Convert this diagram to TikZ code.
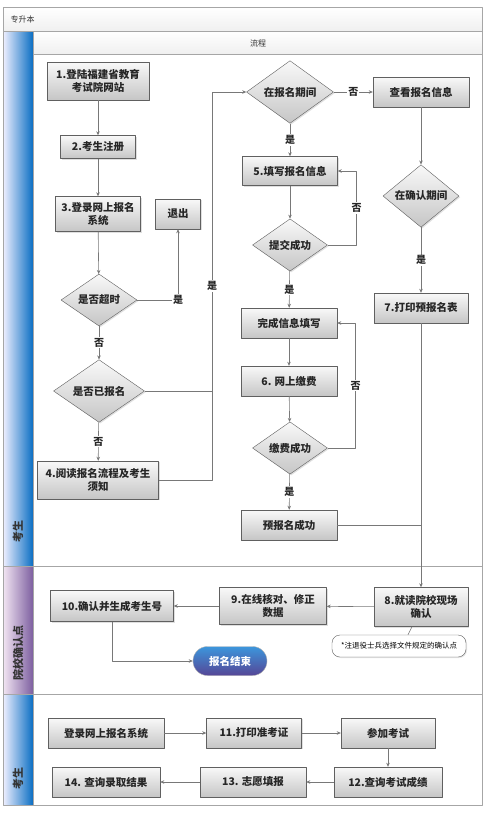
\documentclass[tikz,border=0pt]{standalone}
\usepackage{fontspec}
\setmainfont{Noto Sans CJK SC}
\usetikzlibrary{shapes.geometric,shadows,arrows.meta}

\definecolor{laneblue}{RGB}{10,110,195}
\definecolor{lanepurple}{RGB}{125,95,160}
\definecolor{linegray}{RGB}{120,120,120}
\definecolor{endtop}{RGB}{60,150,220}
\definecolor{endbot}{RGB}{85,70,150}

\tikzset{
  proc/.style={draw=gray!75!black, top color=gray!5, bottom color=gray!45, text=black!85,
    drop shadow={opacity=0.25, shadow xshift=1.2pt, shadow yshift=-1.2pt},
    align=center, inner sep=1pt, minimum height=30pt,
    font=\fontsize{10.5}{13}\selectfont\bfseries},
  decide/.style={proc, diamond, inner sep=0pt},
  lbl/.style={fill=white, inner sep=1pt, text=black!85, font=\fontsize{10}{11}\selectfont\bfseries},
  flow/.style={draw=linegray, line width=0.6pt, ->},
  lane/.style={draw=gray!70, line width=0.6pt},
  remark/.style={draw=gray!75!black, fill=white, rounded corners=8pt, inner sep=2pt,
    drop shadow={opacity=0.2, shadow xshift=1pt, shadow yshift=-1pt},
    font=\fontsize{7.5}{9}\selectfont},
  finish/.style={draw=gray!60, rounded corners=14.5pt, top color=endtop, bottom color=endbot,
    text=white, font=\fontsize{10.5}{13}\selectfont\bfseries},
  lanetext/.style={rotate=90, text=black!80, font=\fontsize{11}{13}\selectfont\bfseries},
}

\begin{document}
\begin{tikzpicture}[x=1pt, y=-1pt, line join=round, >={Stealth[length=4pt,width=3.5pt]}]
\useasboundingbox (0,0) rectangle (488,815);
\fill[white] (0,0) rectangle (488,815);

\shade[top color=white, bottom color=gray!12] (3,7) rectangle (482,31);
\shade[top color=white, bottom color=gray!12] (33,31) rectangle (482,54);
\shade[left color=blue!6, right color=laneblue] (3,31) rectangle (33,566);
\shade[left color=violet!10, right color=lanepurple] (3,566) rectangle (33,694);
\shade[left color=blue!6, right color=laneblue] (3,694) rectangle (33,805);
\draw[lane] (3,7) rectangle (482,805);
\draw[lane] (3,31) -- (482,31) (33,54) -- (482,54) (33,31) -- (33,805)
  (3,566) -- (482,566) (3,694) -- (482,694);

\node[anchor=west, text=black!80, font=\fontsize{8}{10}\selectfont] (title) at (7,19) {专升本};
\node[text=black!80, font=\fontsize{8}{10}\selectfont] (head) at (258,43) {流程};
\node[lanetext] (lane1) at (18,531) {考生};
\node[lanetext] (lane2) at (18,653) {院校确认点};
\node[lanetext] (lane3) at (18,778) {考生};

\node[proc, minimum width=102pt, minimum height=38pt] (s1) at (98,81) {1.登陆福建省教育\\考试院网站};
\node[proc, minimum width=75pt, minimum height=23pt] (s2) at (98,147) {2.考生注册};
\node[proc, minimum width=85pt, minimum height=35pt] (s3) at (98,214) {3.登录网上报名\\系统};
\node[proc, minimum width=45pt] (quit) at (178,214) {退出};
\node[decide, minimum width=76pt, minimum height=44pt] (timeout) at (99,300) {是否超时};
\node[decide, minimum width=91pt, minimum height=51pt] (applied) at (99,391) {是否已报名};
\node[proc, minimum width=121pt, minimum height=38pt] (s4) at (98,480) {4.阅读报名流程及考生\\须知};

\node[decide, minimum width=87pt, minimum height=51pt] (period) at (290,92) {在报名期间};
\node[proc, minimum width=96pt] (view) at (421,92) {查看报名信息};
\node[proc, minimum width=95pt, minimum height=29pt] (s5) at (290,171) {5.填写报名信息};
\node[decide, minimum width=76pt, minimum height=41pt] (confirm) at (421,196) {在确认期间};
\node[decide, minimum width=75pt, minimum height=44pt] (submit) at (290,245) {提交成功};
\node[proc, minimum width=94pt] (s7) at (421,308) {7.打印预报名表};
\node[proc, minimum width=96pt] (done) at (289,323) {完成信息填写};
\node[proc, minimum width=96pt] (s6) at (289,381) {6. 网上缴费};
\node[decide, minimum width=75pt, minimum height=44pt] (paid) at (290,448) {缴费成功};
\node[proc, minimum width=96pt] (pre) at (289,525) {预报名成功};

\node[proc, minimum width=94pt, minimum height=39pt] (s8) at (421,607) {8.就读院校现场\\确认};
\node[proc, minimum width=107pt, minimum height=37pt] (s9) at (273,606) {9.在线核对、修正\\数据};
\node[proc, minimum width=123pt, minimum height=31pt] (s10) at (112,606) {10.确认并生成考生号};
\node[remark, minimum width=134pt, minimum height=22pt] (note) at (399,646) {*注退役士兵选择文件规定的确认点};
\node[finish, minimum width=74pt, minimum height=29pt] (finish) at (230,661) {报名结束};

\node[proc, minimum width=116pt] (m1) at (106,733) {登录网上报名系统};
\node[proc, minimum width=95pt] (m2) at (254,733) {11.打印准考证};
\node[proc, minimum width=94pt] (m3) at (388,733) {参加考试};
\node[proc, minimum width=108pt] (m4) at (388,782) {12.查询考试成绩};
\node[proc, minimum width=106pt] (m5) at (253,782) {13. 志愿填报};
\node[proc, minimum width=108pt] (m6) at (106,782) {14. 查询录取结果};

\coordinate (jx) at (212,92);
\draw[flow] (s1) -- (s2);
\draw[flow] (s2) -- (s3);
\draw[flow] (s3) -- (timeout);
\draw[flow] (timeout.east) -- (timeout.east -| quit.south) node[lbl]{是} -- (quit.south);
\draw[flow] (timeout) -- node[lbl]{否} (applied);
\draw[flow] (applied) -- node[lbl]{否} (s4);
\draw[draw=linegray, line width=0.6pt] (applied.east) -- (applied.east -| jx);
\draw[flow] (s4.east) -- (s4.east -| jx) -- node[lbl]{是} (jx) -- (period.west);

\draw[flow] (period) -- node[lbl]{否} (view);
\draw[flow] (period) -- node[lbl]{是} (s5);
\draw[flow] (s5) -- (submit);
\draw[flow] (submit.east) -- ++(29,0) |- node[lbl, pos=0.25]{否} (s5.east);
\draw[flow] (submit) -- node[lbl]{是} (done);
\draw[flow] (done) -- (s6);
\draw[flow] (s6) -- (paid);
\draw[flow] (paid.east) -- ++(28,0) |- node[lbl, pos=0.25]{否} (done.east);
\draw[flow] (paid) -- node[lbl]{是} (pre);
\draw[flow] (view) -- (confirm);
\draw[flow] (confirm) -- node[lbl]{是} (s7);
\draw[flow] (s7) -- (s8);
\draw[draw=linegray, line width=0.6pt] (pre.east) -- (pre.east -| s7.south);

\draw[flow] (s8) -- (s9);
\draw[flow] (s9) -- (s10);
\draw[flow] (s10.south) |- (finish.west);
\draw[draw=linegray, line width=0.6pt] ([xshift=-9pt]s8.south) -- ([xshift=9pt]note.north);

\foreach \a/\b in {m1/m2, m2/m3, m3/m4, m4/m5, m5/m6}
  \draw[flow] (\a) -- (\b);
\end{tikzpicture}
\end{document}
